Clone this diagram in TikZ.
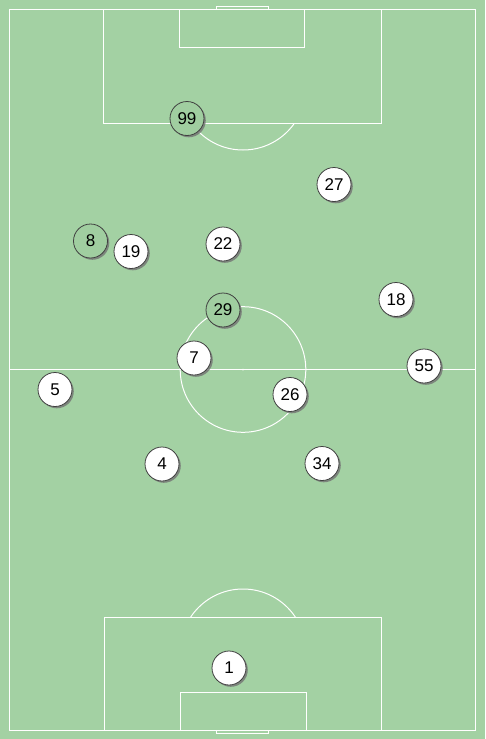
\documentclass[tikz,border=0pt]{standalone}
\usepackage{fontspec}
\setmainfont{Liberation Sans}
\usetikzlibrary{shadows}
\definecolor{pitch}{HTML}{A3D1A3}
\definecolor{teamb}{HTML}{A0CEA0}
\tikzset{
  fieldline/.style={draw=white, line width=1pt},
  player/.style={circle, draw=black!75, line width=0.8pt, minimum size=34pt, inner sep=0pt,
    font=\fontsize{17}{18}\selectfont,
    drop shadow={shadow xshift=1.8pt, shadow yshift=-1.8pt, fill=black!55, opacity=0.8}},
  home/.style={player, fill=white},
  away/.style={player, fill=teamb},
}
\begin{document}
\begin{tikzpicture}[x=1pt, y=-1pt]
\fill[pitch] (0,0) rectangle (485,739);
\useasboundingbox (0,0) rectangle (485,739);
% field markings
\draw[fieldline] (9.5,9.5) rectangle (475,730);
\draw[fieldline] (216,6.3) rectangle (268,9.5);
\draw[fieldline] (216,730) rectangle (268,733);
\draw[fieldline] (103.5,9.5) rectangle (381,123);
\draw[fieldline] (179.5,9.5) rectangle (304.5,47);
\draw[fieldline] (104.5,617) rectangle (381.5,730);
\draw[fieldline] (180,692) rectangle (306.5,730);
\draw[fieldline] (9.5,369.5) -- (475,369.5);
\draw[fieldline] (243,369.5) circle (62.8);
\fill[white] (243,369.5) circle (1pt);
\begin{scope}
  \clip (0,123) rectangle (485,300);
  \draw[fieldline] (243,87.2) circle (62.8);
\end{scope}
\begin{scope}
  \clip (0,450) rectangle (485,617);
  \draw[fieldline] (243,651.8) circle (62.8);
\end{scope}
% players
\node[away] (p99) at (187,118.5) {99};
\node[home] (p27) at (334,184.5) {27};
\node[away] (p8) at (90.5,241) {8};
\node[home] (p19) at (131,251.5) {19};
\node[home] (p22) at (223,244) {22};
\node[away] (p29) at (223,310) {29};
\node[home] (p18) at (396,299.5) {18};
\node[home] (p7) at (194,358) {7};
\node[home] (p55) at (424,366) {55};
\node[home] (p5) at (55,389.5) {5};
\node[home] (p26) at (290,394.5) {26};
\node[home] (p4) at (162,464) {4};
\node[home] (p34) at (322,463.5) {34};
\node[home] (p1) at (229,668) {1};
\end{tikzpicture}
\end{document}
